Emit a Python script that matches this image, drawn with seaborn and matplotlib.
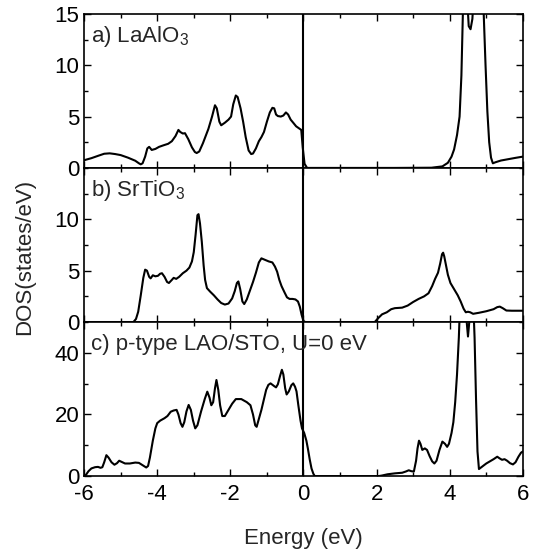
import seaborn as sns
import matplotlib.pyplot as plt
import numpy as np
import pandas as pd
from matplotlib.ticker import MultipleLocator

# DATA

# a) LaAlO3
lao_e = [-6.0, -5.8, -5.6, -5.45, -5.3, -5.15, -5.0, -4.8, -4.6, -4.5, -4.45, -4.4,
         -4.33, -4.27, -4.22, -4.15, -4.05, -3.95, -3.83, -3.7, -3.6, -3.5, -3.42, -3.37,
         -3.3, -3.24, -3.15, -3.05, -2.97, -2.92, -2.85, -2.75, -2.6, -2.5, -2.42, -2.37,
         -2.3, -2.25, -2.15, -2.05, -1.98, -1.92, -1.85, -1.8, -1.72, -1.65, -1.58, -1.5,
         -1.43, -1.38, -1.3, -1.22, -1.15, -1.08, -1.0, -0.92, -0.85, -0.8, -0.75, -0.7,
         -0.62, -0.55, -0.48, -0.42, -0.35, -0.28, -0.2, -0.12, -0.06, -0.02, 0.03, 0.1,
         2.5, 3.5, 3.8, 3.95, 4.05, 4.12, 4.2, 4.27, 4.32, 4.36, 4.42, 4.47, 4.52, 4.57,
         4.62, 4.68, 4.75, 4.85, 4.93, 4.98, 5.03, 5.08, 5.13, 5.18, 5.25, 5.4, 5.6, 5.8, 6.0]
lao_dos = [0.75, 0.95, 1.2, 1.38, 1.42, 1.35, 1.25, 1.0, 0.7, 0.45, 0.35, 0.45,
           1.1, 1.9, 2.05, 1.75, 1.85, 2.05, 2.2, 2.35, 2.6, 3.1, 3.7, 3.5,
           3.35, 3.38, 2.8, 2.0, 1.55, 1.45, 1.6, 2.4, 3.8, 5.0, 6.1, 5.8,
           4.5, 4.15, 4.4, 4.7, 5.0, 6.2, 7.05, 6.9, 5.8, 4.5, 3.0, 1.7,
           1.35, 1.4, 1.9, 2.6, 3.0, 3.5, 4.5, 5.4, 5.85, 5.8, 5.2, 5.05,
           5.0, 5.1, 5.4, 5.2, 4.7, 4.4, 4.05, 3.85, 3.7, 2.0, 0.4, 0.0,
           0.0, 0.02, 0.15, 0.5, 1.1, 1.8, 3.2, 5.0, 9.0, 15.0, 21.0, 17.0, 13.8, 13.5,
           14.5, 18.0, 21.0, 20.0, 15.0, 10.0, 5.5, 2.5, 1.0, 0.45, 0.55, 0.72, 0.85, 0.98, 1.1]

# b) SrTiO3
sto_e = [-6.0, -4.65, -4.58, -4.52, -4.45, -4.38, -4.33, -4.28, -4.22, -4.18, -4.12, -4.05,
         -3.98, -3.92, -3.87, -3.8, -3.73, -3.68, -3.6, -3.55, -3.48, -3.4, -3.3, -3.2,
         -3.12, -3.05, -3.0, -2.95, -2.9, -2.87, -2.83, -2.78, -2.73, -2.69, -2.64, -2.55,
         -2.45, -2.35, -2.25, -2.15, -2.05, -1.95, -1.88, -1.82, -1.78, -1.73, -1.67, -1.62,
         -1.55, -1.47, -1.38, -1.3, -1.22, -1.15, -1.05, -0.95, -0.85, -0.78, -0.72, -0.66,
         -0.6, -0.52, -0.45, -0.38, -0.3, -0.22, -0.15, -0.1, -0.05, 0.0, 0.05,
         1.95, 2.05, 2.15, 2.28, 2.4, 2.5, 2.7, 2.85, 3.0, 3.15, 3.3, 3.42, 3.52, 3.6,
         3.68, 3.74, 3.79, 3.82, 3.85, 3.9, 3.95, 4.02, 4.12, 4.22, 4.3, 4.38, 4.44, 4.5,
         4.56, 4.64, 4.8, 5.0, 5.2, 5.3, 5.37, 5.45, 5.55, 5.7, 6.0]
sto_dos = [0.0, 0.0, 0.3, 1.0, 2.6, 4.3, 5.1, 5.0, 4.4, 4.25, 4.55, 4.45,
           4.5, 4.7, 4.75, 4.4, 3.9, 3.8, 4.1, 4.3, 4.2, 4.4, 4.75, 5.0,
           5.3, 5.9, 6.8, 8.5, 10.4, 10.5, 9.6, 7.8, 5.5, 4.1, 3.3, 2.95,
           2.6, 2.2, 1.85, 1.7, 1.8, 2.3, 3.0, 3.8, 3.95, 3.2, 2.0, 1.75,
           2.2, 3.0, 3.9, 4.8, 5.8, 6.2, 6.05, 5.9, 5.8, 5.4, 4.9, 4.1,
           3.5, 2.9, 2.4, 2.25, 2.25, 2.2, 2.0, 1.5, 0.7, 0.1, 0.0,
           0.0, 0.4, 0.75, 0.95, 1.25, 1.35, 1.4, 1.6, 1.95, 2.25, 2.5, 2.8, 3.5, 4.2,
           4.8, 5.7, 6.6, 6.75, 6.4, 5.5, 4.6, 3.8, 3.2, 2.6, 2.0, 1.3, 0.95, 1.0,
           0.95, 0.8, 0.9, 1.05, 1.25, 1.45, 1.5, 1.35, 1.12, 1.1, 1.1]

# c) p-type LAO/STO
het_e = [-6.0, -5.95, -5.88, -5.8, -5.7, -5.62, -5.55, -5.5, -5.45, -5.39, -5.33, -5.25,
         -5.17, -5.1, -5.04, -4.97, -4.88, -4.75, -4.6, -4.5, -4.38, -4.3, -4.25, -4.2,
         -4.12, -4.05, -4.0, -3.92, -3.8, -3.72, -3.63, -3.55, -3.47, -3.42, -3.36, -3.31,
         -3.26, -3.2, -3.14, -3.08, -3.02, -2.96, -2.9, -2.8, -2.7, -2.63, -2.57, -2.52,
         -2.47, -2.42, -2.38, -2.33, -2.28, -2.22, -2.15, -2.05, -1.95, -1.85, -1.7, -1.55,
         -1.45, -1.38, -1.32, -1.28, -1.22, -1.15, -1.08, -1.02, -0.96, -0.9, -0.8, -0.75,
         -0.7, -0.64, -0.59, -0.55, -0.5, -0.46, -0.4, -0.33, -0.28, -0.23, -0.19, -0.14,
         -0.08, -0.04, 0.02, 0.08, 0.12, 0.17, 0.22, 0.27, 0.31,
         2.05, 2.15, 2.3, 2.5, 2.7, 2.8, 2.88, 2.95, 3.02, 3.08, 3.12, 3.16, 3.2,
         3.25, 3.32, 3.38, 3.45, 3.52, 3.58, 3.64, 3.72, 3.8, 3.87, 3.93, 3.98, 4.05,
         4.1, 4.15, 4.2, 4.25, 4.28, 4.33, 4.4, 4.45, 4.5, 4.55, 4.6, 4.64, 4.68, 4.72,
         4.76, 4.8, 4.9, 5.0, 5.1, 5.2, 5.3, 5.36, 5.43, 5.5, 5.57, 5.65, 5.73, 5.8,
         5.88, 5.95, 6.0]
het_dos = [0.0, 0.4, 1.6, 2.5, 2.9, 3.0, 2.7, 2.9, 4.5, 6.8, 6.0, 4.5,
           3.7, 4.2, 5.0, 4.6, 4.1, 4.1, 4.4, 4.3, 3.4, 2.8, 3.3, 6.0,
           11.5, 15.5, 17.2, 18.0, 18.8, 19.5, 20.9, 21.3, 21.5, 20.0, 17.2, 16.0,
           17.5, 21.0, 23.1, 21.5, 18.0, 15.5, 16.5, 21.0, 25.0, 27.4, 25.5, 23.0,
           24.0, 28.5, 31.2, 28.0, 23.0, 19.5, 19.5, 21.5, 23.5, 25.0, 25.0, 24.0,
           23.0, 20.0, 16.5, 16.0, 18.5, 21.5, 25.0, 28.0, 29.6, 30.1, 29.2, 28.8,
           29.8, 32.5, 34.5, 33.0, 28.5, 26.5, 27.5, 29.5, 30.1, 29.0, 27.5, 23.0,
           18.0, 15.5, 14.0, 11.5, 9.0, 5.5, 2.5, 0.8, 0.0,
           0.0, 0.2, 0.6, 0.9, 1.1, 1.5, 1.9, 1.6, 1.5, 5.0, 9.0, 11.5, 10.5,
           8.5, 9.0, 8.5, 6.5, 4.8, 4.1, 5.0, 8.5, 11.2, 10.5, 9.5, 10.5, 14.0,
           17.5, 24.0, 33.0, 45.0, 55.0, 62.0, 60.0, 52.0, 45.3, 52.0, 60.0, 58.0, 45.0, 25.0,
           8.0, 2.3, 3.2, 4.1, 4.8, 5.5, 6.3, 5.8, 5.3, 5.5, 5.0, 4.2, 3.8, 4.5,
           6.3, 7.6, 8.0]

panels = [
    (lao_e, lao_dos, "a) LaAlO$_3$", (0, 15), 2.5, [0, 5, 10, 15], 0.935),
    (sto_e, sto_dos, "b) SrTiO$_3$", (0, 15), 2.5, [0, 5, 10], 0.935),
    (het_e, het_dos, "c) p-type LAO/STO, U=0 eV", (0, 50), 10, [0, 20, 40], 0.92),
]

sns.set_style("ticks")
plt.rcParams['font.family'] = ['Liberation Sans', 'DejaVu Sans']
plt.rcParams['mathtext.default'] = 'regular'
plt.rcParams['axes.unicode_minus'] = False
fs = 16

fig, axes = plt.subplots(3, 1, figsize=(5.39, 5.53), dpi=100, sharex=True)
fig.subplots_adjust(left=0.156, right=0.970, top=0.975, bottom=0.139, hspace=0)

for ax, (e, d, label, ylim, minor, yt, ty) in zip(axes, panels):
    df = pd.DataFrame({"Energy": e, "DOS": d})
    sns.lineplot(data=df, x="Energy", y="DOS", ax=ax, color="black", lw=1.5,
                 estimator=None, sort=False)
    ax.axvline(0, color="black", lw=1.5)
    ax.set_xlim(-6, 6)
    ax.set_ylim(*ylim)
    ax.set_yticks(yt)
    ax.yaxis.set_minor_locator(MultipleLocator(minor))
    ax.xaxis.set_major_locator(MultipleLocator(2))
    ax.xaxis.set_minor_locator(MultipleLocator(1))
    ax.tick_params(which="both", direction="in", top=True, right=True, width=1,
                   labelsize=fs, colors="black")
    ax.tick_params(which="major", length=5)
    ax.tick_params(which="minor", length=3)
    ax.tick_params(axis="x", pad=6)
    for s in ax.spines.values():
        s.set_linewidth(1.2)
        s.set_color("black")
    ax.set_ylabel("")
    ax.set_xlabel("")
    ax.text(0.015, ty, label, transform=ax.transAxes, va="top", ha="left", fontsize=fs)

axes[-1].set_xticks([-6, -4, -2, 0, 2, 4, 6])
axes[-1].set_xlabel("Energy (eV)", fontsize=fs, labelpad=16)
fig.text(0.046, 0.535, "DOS(states/eV)", rotation=90, va="center", ha="center", fontsize=fs)

fig.savefig("out.png", dpi=100)
